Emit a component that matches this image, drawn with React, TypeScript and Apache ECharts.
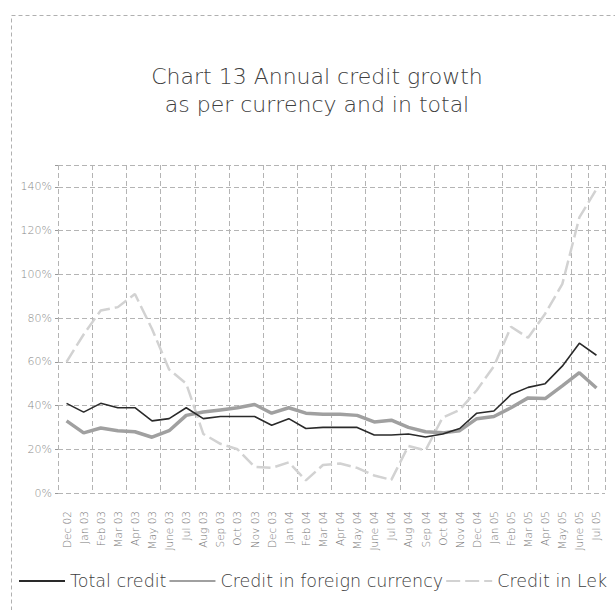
import React, { useEffect, useRef } from "react";
import * as echarts from "echarts";

const categories = [
  "Dec 02", "Jan 03", "Feb 03", "Mar 03", "Apr 03", "May 03", "June 03", "Jul 03",
  "Aug 03", "Sep 03", "Oct 03", "Nov 03", "Dec 03", "Jan 04", "Feb 04", "Mar 04",
  "Apr 04", "May 04", "June 04", "Jul 04", "Aug 04", "Sep 04", "Oct 04", "Nov 04",
  "Dec 04", "Jan 05", "Feb 05", "Mar 05", "Apr 05", "May 05", "June 05", "Jul 05",
];

const totalCredit = [
  41, 37, 41, 39, 39, 33, 34, 39, 34, 35, 35, 35, 31, 34, 29.5, 30,
  30, 30, 26.5, 26.5, 27, 25.6, 27, 29.5, 36.5, 37.5, 45, 48.3, 50, 58, 68.5, 63,
];

const foreignCredit = [
  33, 27.5, 29.7, 28.5, 28, 25.5, 28.5, 35.5, 37, 38, 39, 40.5, 36.5, 39, 36.5, 36,
  36, 35.5, 32.5, 33.3, 30, 28, 27.5, 28.5, 34, 35, 39, 43.5, 43.2, 49, 55, 48,
];

const lekCredit = [
  60, 72.5, 83.5, 85, 91, 75, 56.5, 50, 27, 22.5, 20, 12, 11.5, 14, 5.8, 12.8,
  13.5, 11.5, 8, 6, 21.5, 19.5, 34.5, 38, 47, 58, 76, 71, 82, 95.5, 126, 139,
];

const yTicks = [0, 20, 40, 60, 80, 100, 120, 140];

const seriesNames = ["Total credit", "Credit in foreign currency", "Credit in Lek"];

export default function App() {
  const ref = useRef<HTMLDivElement>(null);
  useEffect(() => {
    if (!ref.current) return;
    const chart = echarts.init(ref.current, null, { renderer: "svg" });
    const font = "'DejaVu Sans', sans-serif";
    const grid = "#b4b4b4";
    chart.setOption({
      animation: false,
      backgroundColor: "#ffffff",
      title: {
        text: "Chart 13 Annual credit growth\nas per currency and in total",
        left: 312,
        textAlign: "center",
        top: 57,
        textStyle: {
          fontFamily: font,
          fontSize: 22,
          fontWeight: 200,
          color: "#404040",
          lineHeight: 28,
        },
      },
      graphic: [
        {
          type: "rect",
          shape: { x: 11.5, y: 15.5, width: 700, height: 700 },
          style: { fill: "none", stroke: "#b0b0b0", lineWidth: 1, lineDash: [4, 3] },
          silent: true,
          z: -1,
        },
      ],
      legend: {
        data: seriesNames,
        left: 18,
        top: 572,
        padding: 0,
        itemWidth: 46,
        itemHeight: 10,
        itemGap: 2,
        itemStyle: { opacity: 0 },
        textStyle: { fontFamily: font, fontSize: 17.5, fontWeight: 200, color: "#404040" },
      },
      grid: { left: 58, right: 10, top: 165, bottom: 117, containLabel: false },
      xAxis: {
        type: "category",
        data: categories,
        boundaryGap: true,
        axisLine: { show: false },
        axisTick: { show: false },
        axisLabel: {
          interval: 0,
          rotate: 90,
          margin: 18,
          fontFamily: font,
          fontSize: 10.5,
          fontWeight: 200,
          color: "#777777",
        },
        splitLine: {
          show: true,
          interval: 1,
          lineStyle: { color: grid, type: [5, 3], width: 1 },
        },
      },
      yAxis: {
        type: "value",
        min: 0,
        max: 150,
        interval: 20,
        axisLine: { show: false },
        axisTick: { show: true, length: 3, lineStyle: { color: "#999999" } },
        axisLabel: {
          margin: 6,
          fontFamily: font,
          fontSize: 11,
          fontWeight: 200,
          color: "#888888",
          formatter: (v: number) => (yTicks.indexOf(v) >= 0 ? v + "%" : ""),
        },
        splitLine: { show: true, lineStyle: { color: grid, type: [5, 3], width: 1 } },
      },
      series: [
        {
          name: seriesNames[2],
          type: "line",
          data: lekCredit,
          symbol: "none",
          lineStyle: { color: "#d2d2d2", width: 2.5, type: [14, 5] },
          itemStyle: { color: "#d2d2d2" },
          z: 2,
        },
        {
          name: seriesNames[1],
          type: "line",
          data: foreignCredit,
          symbol: "none",
          lineStyle: { color: "#a0a0a0", width: 3.5 },
          itemStyle: { color: "#a0a0a0" },
          z: 3,
        },
        {
          name: seriesNames[0],
          type: "line",
          data: totalCredit,
          symbol: "none",
          lineStyle: { color: "#2a2a2a", width: 1.6 },
          itemStyle: { color: "#2a2a2a" },
          z: 4,
        },
      ],
    });
    return () => chart.dispose();
  }, []);
  return (
    <div
      ref={ref}
      style={{ position: "fixed", left: 0, top: 0, width: 615, height: 610 }}
    />
  );
}
